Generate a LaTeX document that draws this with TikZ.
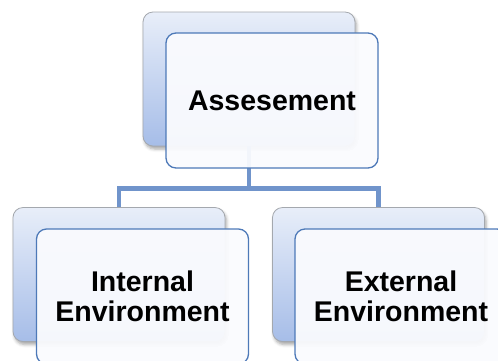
\documentclass[tikz,border=0pt]{standalone}
\usepackage{fontspec}
\setmainfont{Liberation Sans}
\usetikzlibrary{shadows.blur}

\definecolor{backtop}{HTML}{E8EEF9}
\definecolor{backbot}{HTML}{A6BDE8}
\definecolor{backedge}{HTML}{A4A8AE}
\definecolor{frontedge}{HTML}{4D79B8}
\definecolor{frontfill}{HTML}{FAFBFE}
\definecolor{linkblue}{HTML}{7094CB}

\tikzset{
  backcard/.style={rectangle, rounded corners=10pt, draw=backedge, line width=0.8pt,
    top color=backtop, bottom color=backbot, minimum width=212pt, minimum height=134pt,
    inner sep=0pt,
    blur shadow={shadow xshift=1.5pt, shadow yshift=-3pt, shadow blur radius=3pt, shadow opacity=35}},
  frontcard/.style={rectangle, rounded corners=10pt, draw=frontedge, line width=1.3pt,
    fill=frontfill, fill opacity=0.95, text opacity=1, minimum width=212pt, minimum height=135pt,
    inner sep=0pt, align=center,
    font=\fontsize{28.5pt}{30pt}\selectfont\bfseries},
  link/.style={draw=linkblue, line width=4.5pt}
}

\begin{document}
\begin{tikzpicture}[x=1pt, y=-1pt]
  \useasboundingbox (0,0) rectangle (498,360);

  % back cards
  \node[backcard] (topback)   at (249,79)    {};
  \node[backcard] (leftback)  at (119,274.5) {};
  \node[backcard] (rightback) at (378.5,274.5) {};

  % connectors between the back cards
  \coordinate (bus) at (249,188.5);
  \draw[link] (topback.south) -- (bus);
  \draw[link] (leftback.north) |- (bus) -| (rightback.north);

  % front cards with labels
  \node[frontcard] (top)   at (272,100.5)  {Assesement};
  \node[frontcard] (left)  at (142.5,296.5) {Internal\\Environment};
  \node[frontcard] (right) at (401,296.5)  {External\\Environment};
\end{tikzpicture}
\end{document}
